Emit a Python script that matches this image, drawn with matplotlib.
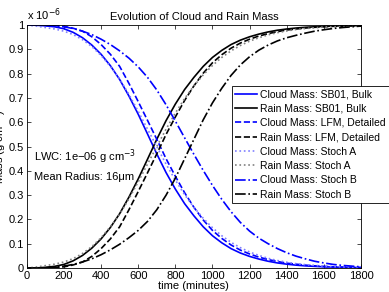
import numpy as np
import matplotlib
matplotlib.use("Agg")
import matplotlib.pyplot as plt

plt.rcParams['font.family'] = ['Liberation Sans', 'DejaVu Sans']

# time axis (minutes)
time = list(range(0, 1801, 50))

# mass in units of 1e-6 g cm^-3
cloud_sb01 = [1.0, 0.9995, 0.997, 0.993, 0.985, 0.970, 0.948, 0.918, 0.880, 0.833,
              0.776, 0.708, 0.633, 0.552, 0.470, 0.393, 0.325, 0.265, 0.215, 0.170,
              0.133, 0.104, 0.080, 0.062, 0.048, 0.037, 0.028, 0.021, 0.016, 0.012,
              0.009, 0.007, 0.005, 0.004, 0.003, 0.0025, 0.002]
rain_sb01 = [0.0, 0.0005, 0.003, 0.007, 0.015, 0.030, 0.052, 0.082, 0.120, 0.167,
             0.224, 0.292, 0.367, 0.448, 0.530, 0.607, 0.675, 0.735, 0.785, 0.830,
             0.867, 0.896, 0.920, 0.938, 0.952, 0.963, 0.972, 0.979, 0.984, 0.988,
             0.991, 0.993, 0.995, 0.996, 0.997, 0.9975, 0.998]
cloud_lfm = [1.0, 1.0, 0.999, 0.998, 0.995, 0.987, 0.975, 0.952, 0.920, 0.880,
             0.830, 0.760, 0.685, 0.608, 0.530, 0.450, 0.378, 0.310, 0.250, 0.198,
             0.155, 0.122, 0.095, 0.074, 0.058, 0.045, 0.035, 0.027, 0.020, 0.016,
             0.012, 0.009, 0.007, 0.005, 0.004, 0.003, 0.002]
rain_lfm = [0.0, 0.0, 0.001, 0.002, 0.005, 0.013, 0.025, 0.048, 0.080, 0.120,
            0.170, 0.240, 0.315, 0.392, 0.470, 0.550, 0.622, 0.690, 0.750, 0.802,
            0.845, 0.878, 0.905, 0.926, 0.942, 0.955, 0.965, 0.973, 0.980, 0.984,
            0.988, 0.991, 0.993, 0.995, 0.996, 0.997, 0.998]
cloud_stoch_a = [1.0, 0.996, 0.990, 0.984, 0.975, 0.961, 0.940, 0.912, 0.875, 0.830,
                 0.778, 0.715, 0.645, 0.572, 0.500, 0.428, 0.362, 0.302, 0.250, 0.205,
                 0.166, 0.133, 0.106, 0.084, 0.066, 0.052, 0.040, 0.031, 0.024, 0.018,
                 0.014, 0.011, 0.008, 0.006, 0.005, 0.004, 0.003]
rain_stoch_a = [0.0, 0.004, 0.010, 0.016, 0.025, 0.039, 0.060, 0.088, 0.125, 0.170,
                0.222, 0.285, 0.355, 0.428, 0.500, 0.572, 0.638, 0.698, 0.750, 0.795,
                0.834, 0.867, 0.894, 0.916, 0.934, 0.948, 0.960, 0.969, 0.976, 0.982,
                0.986, 0.989, 0.992, 0.994, 0.995, 0.996, 0.997]
cloud_stoch_b = [1.0, 1.0, 0.999, 0.997, 0.993, 0.986, 0.975, 0.961, 0.942, 0.920,
                 0.894, 0.864, 0.828, 0.785, 0.733, 0.672, 0.605, 0.536, 0.468, 0.402,
                 0.340, 0.283, 0.232, 0.188, 0.152, 0.123, 0.100, 0.080, 0.063, 0.049,
                 0.038, 0.028, 0.021, 0.015, 0.011, 0.008, 0.005]
rain_stoch_b = [0.0, 0.0, 0.001, 0.003, 0.008, 0.015, 0.025, 0.038, 0.055, 0.075,
                0.098, 0.125, 0.155, 0.192, 0.240, 0.300, 0.370, 0.450, 0.530, 0.610,
                0.680, 0.740, 0.793, 0.836, 0.870, 0.897, 0.918, 0.935, 0.948, 0.958,
                0.967, 0.975, 0.981, 0.986, 0.990, 0.993, 0.996]

fig = plt.figure(figsize=(3.89, 2.92), dpi=100)
ax = fig.add_axes([0.069, 0.082, 0.859, 0.832])

lw = 1.2
ax.plot(time, cloud_sb01, color='b', ls='-', lw=lw, label='Cloud Mass: SB01, Bulk')
ax.plot(time, rain_sb01, color='k', ls='-', lw=lw, label='Rain Mass: SB01, Bulk')
ax.plot(time, cloud_lfm, color='b', ls='--', lw=lw, label='Cloud Mass: LFM, Detailed')
ax.plot(time, rain_lfm, color='k', ls='--', lw=lw, label='Rain Mass: LFM, Detailed')
ax.plot(time, cloud_stoch_a, color='#7f7fff', ls=':', lw=lw, label='Cloud Mass: Stoch A')
ax.plot(time, rain_stoch_a, color='0.5', ls=':', lw=lw, label='Rain Mass: Stoch A')
ax.plot(time, cloud_stoch_b, color='b', ls='-.', lw=lw, label='Cloud Mass: Stoch B')
ax.plot(time, rain_stoch_b, color='k', ls='-.', lw=lw, label='Rain Mass: Stoch B')

ax.set_xlim(0, 1800)
ax.set_ylim(0, 1)
ax.set_xticks(np.arange(0, 1801, 200))
ax.set_yticks(np.arange(0, 1.01, 0.1))
ax.set_yticklabels(['0', '0.1', '0.2', '0.3', '0.4', '0.5', '0.6', '0.7', '0.8', '0.9', '1'])
ax.tick_params(direction='in', top=True, right=True, labelsize=8, length=3, width=0.5, pad=2)
for s in ax.spines.values():
    s.set_linewidth(0.6)

ax.set_title('Evolution of Cloud and Rain Mass', fontsize=8, pad=4)
ax.set_xlabel('time (minutes)', fontsize=8, labelpad=0)
ax.set_ylabel('Mass (g cm$^{-3}$)', fontsize=8)
ax.yaxis.set_label_coords(-0.052, 0.5)
ax.text(0.0, 1.01, 'x 10$^{-6}$', transform=ax.transAxes, fontsize=8, va='bottom', ha='left')

ax.text(40, 0.46, 'LWC: 1e\u221206 g cm$^{-3}$', fontsize=8, va='center')
ax.text(40, 0.375, 'Mean Radius: 16\u03bcm', fontsize=8, va='center')

# legend sticks out past the right edge like in the original
leg = ax.legend(loc='upper left', bbox_to_anchor=(0.614, 0.749), fontsize=7.5, frameon=True,
                fancybox=False, edgecolor='k', framealpha=1, handlelength=2.1,
                handletextpad=0.3, labelspacing=0.42, borderpad=0.3, borderaxespad=0)
leg.get_frame().set_linewidth(0.6)

fig.savefig('out.png', dpi=100)
